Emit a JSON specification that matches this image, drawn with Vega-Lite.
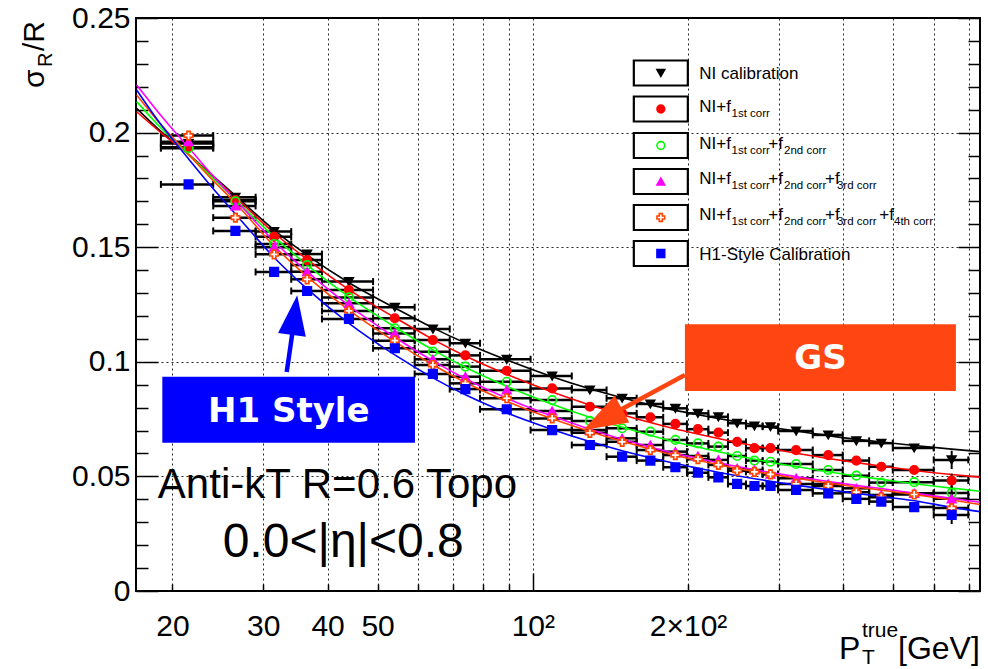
{
  "$schema": "https://vega.github.io/schema/vega-lite/v6.json",
  "width": 844,
  "height": 573,
  "autosize": {"type": "none"},
  "padding": {"left": 136, "top": 18, "right": 8, "bottom": 78},
  "background": "white",
  "config": {
    "view": {"stroke": "black", "strokeWidth": 2},
    "axis": {
      "labelFont": "Liberation Sans", "labelFontSize": 30, "labelColor": "black",
      "tickColor": "black", "tickWidth": 1.5, "domain": false, "title": null,
      "gridColor": "#000000", "gridDash": [2, 3], "gridWidth": 1, "gridOpacity": 0.85,
      "labelOverlap": false, "labelFlush": false
    },
    "text": {"font": "Liberation Sans", "color": "black"}
  },
  "datasets": {
    "pts": [
      {"lo": 19, "hi": 24, "x": 21.5, "NI": 0.1952, "f1": 0.1936, "f2": 0.1932, "f3": 0.1960, "f4": 0.1987, "H1": 0.1774},
      {"lo": 24, "hi": 29, "x": 26.5, "NI": 0.1718, "f1": 0.1706, "f2": 0.1700, "f3": 0.1680, "f4": 0.1629, "H1": 0.1571},
      {"lo": 29, "hi": 34, "x": 31.5, "NI": 0.1568, "f1": 0.1546, "f2": 0.1514, "f3": 0.1500, "f4": 0.1469, "H1": 0.1392},
      {"lo": 34, "hi": 39, "x": 36.5, "NI": 0.1470, "f1": 0.1444, "f2": 0.1422, "f3": 0.1393, "f4": 0.1360, "H1": 0.1309},
      {"lo": 39, "hi": 49, "x": 44, "NI": 0.1350, "f1": 0.1313, "f2": 0.1281, "f3": 0.1255, "f4": 0.1222, "H1": 0.1187},
      {"lo": 49, "hi": 59, "x": 54, "NI": 0.1238, "f1": 0.1190, "f2": 0.1146, "f3": 0.1124, "f4": 0.1092, "H1": 0.1059},
      {"lo": 59, "hi": 69, "x": 64, "NI": 0.1143, "f1": 0.1095, "f2": 0.1044, "f3": 0.1011, "f4": 0.0986, "H1": 0.0947},
      {"lo": 69, "hi": 79, "x": 74, "NI": 0.1081, "f1": 0.1028, "f2": 0.0979, "f3": 0.0935, "f4": 0.0906, "H1": 0.0881},
      {"lo": 79, "hi": 99, "x": 89, "NI": 0.1011, "f1": 0.0961, "f2": 0.0913, "f3": 0.0877, "f4": 0.0841, "H1": 0.0793},
      {"lo": 99, "hi": 119, "x": 109, "NI": 0.0938, "f1": 0.0884, "f2": 0.0833, "f3": 0.0785, "f4": 0.0753, "H1": 0.0702},
      {"lo": 119, "hi": 139, "x": 129, "NI": 0.0877, "f1": 0.0804, "f2": 0.0742, "f3": 0.0702, "f4": 0.0690, "H1": 0.0637},
      {"lo": 139, "hi": 159, "x": 149, "NI": 0.0841, "f1": 0.0775, "f2": 0.0710, "f3": 0.0666, "f4": 0.0651, "H1": 0.0586},
      {"lo": 159, "hi": 179, "x": 169, "NI": 0.0816, "f1": 0.0758, "f2": 0.0695, "f3": 0.0637, "f4": 0.0615, "H1": 0.0569},
      {"lo": 179, "hi": 199, "x": 189, "NI": 0.0797, "f1": 0.0729, "f2": 0.0659, "f3": 0.0608, "f4": 0.0593, "H1": 0.0540},
      {"lo": 199, "hi": 219, "x": 209, "NI": 0.0775, "f1": 0.0706, "f2": 0.0644, "f3": 0.0589, "f4": 0.0575, "H1": 0.0516},
      {"lo": 219, "hi": 239, "x": 229, "NI": 0.0760, "f1": 0.0691, "f2": 0.0630, "f3": 0.0572, "f4": 0.0550, "H1": 0.0496},
      {"lo": 239, "hi": 259, "x": 249, "NI": 0.0732, "f1": 0.0651, "f2": 0.0589, "f3": 0.0535, "f4": 0.0525, "H1": 0.0467},
      {"lo": 259, "hi": 279, "x": 269, "NI": 0.0720, "f1": 0.0623, "f2": 0.0569, "f3": 0.0528, "f4": 0.0520, "H1": 0.0458},
      {"lo": 279, "hi": 299, "x": 289, "NI": 0.0717, "f1": 0.0623, "f2": 0.0564, "f3": 0.0510, "f4": 0.0509, "H1": 0.0458},
      {"lo": 299, "hi": 349, "x": 324, "NI": 0.0698, "f1": 0.0615, "f2": 0.0554, "f3": 0.0492, "f4": 0.0467, "H1": 0.0441},
      {"lo": 349, "hi": 399, "x": 374, "NI": 0.0681, "f1": 0.0593, "f2": 0.0528, "f3": 0.0467, "f4": 0.0458, "H1": 0.0426},
      {"lo": 399, "hi": 449, "x": 424, "NI": 0.0655, "f1": 0.0569, "f2": 0.0503, "f3": 0.0448, "f4": 0.0431, "H1": 0.0402},
      {"lo": 449, "hi": 499, "x": 474, "NI": 0.0645, "f1": 0.0542, "f2": 0.0473, "f3": 0.0419, "f4": 0.0409, "H1": 0.0390},
      {"lo": 499, "hi": 599, "x": 549, "NI": 0.0624, "f1": 0.0528, "f2": 0.0475, "f3": 0.0426, "f4": 0.0421, "H1": 0.0366},
      {"lo": 599, "hi": 699, "x": 649, "NI": 0.0572, "f1": 0.0482, "f2": 0.0428, "f3": 0.0402, "f4": 0.0362, "H1": 0.0332}
    ],
    "verr": [
      {"x": 649, "y": 0.0572, "e": 0.0040},
      {"x": 649, "y": 0.0482, "e": 0.0030},
      {"x": 649, "y": 0.0428, "e": 0.0030},
      {"x": 649, "y": 0.0402, "e": 0.0030},
      {"x": 649, "y": 0.0362, "e": 0.0030},
      {"x": 649, "y": 0.0332, "e": 0.0040}
    ],
    "fit": [
      {"x": 17.05, "NI": 0.2106, "f1": 0.2091, "f2": 0.2135, "f3": 0.2208, "f4": 0.2164, "H1": 0.2186},
      {"x": 19, "NI": 0.2005, "f1": 0.2000, "f2": 0.2020, "f3": 0.2075, "f4": 0.2035, "H1": 0.2035},
      {"x": 21.5, "NI": 0.1905, "f1": 0.1905, "f2": 0.1905, "f3": 0.1935, "f4": 0.1905, "H1": 0.1885},
      {"x": 24, "NI": 0.1810, "f1": 0.1805, "f2": 0.1800, "f3": 0.1810, "f4": 0.1790, "H1": 0.1755},
      {"x": 26.5, "NI": 0.1725, "f1": 0.1718, "f2": 0.1708, "f3": 0.1707, "f4": 0.1693, "H1": 0.1645},
      {"x": 31.5, "NI": 0.1575, "f1": 0.1562, "f2": 0.1545, "f3": 0.1525, "f4": 0.1505, "H1": 0.1455},
      {"x": 36.5, "NI": 0.1465, "f1": 0.1447, "f2": 0.1422, "f3": 0.1393, "f4": 0.1372, "H1": 0.1318},
      {"x": 44, "NI": 0.1345, "f1": 0.1315, "f2": 0.1283, "f3": 0.1245, "f4": 0.1225, "H1": 0.1168},
      {"x": 54, "NI": 0.1235, "f1": 0.1193, "f2": 0.1152, "f3": 0.1107, "f4": 0.1088, "H1": 0.1030},
      {"x": 64, "NI": 0.1148, "f1": 0.1098, "f2": 0.1052, "f3": 0.1004, "f4": 0.0987, "H1": 0.0930},
      {"x": 74, "NI": 0.1082, "f1": 0.1025, "f2": 0.0976, "f3": 0.0926, "f4": 0.0910, "H1": 0.0856},
      {"x": 89, "NI": 0.1008, "f1": 0.0945, "f2": 0.0893, "f3": 0.0841, "f4": 0.0828, "H1": 0.0777},
      {"x": 109, "NI": 0.0935, "f1": 0.0868, "f2": 0.0815, "f3": 0.0763, "f4": 0.0751, "H1": 0.0705},
      {"x": 129, "NI": 0.0882, "f1": 0.0812, "f2": 0.0758, "f3": 0.0706, "f4": 0.0696, "H1": 0.0652},
      {"x": 149, "NI": 0.0843, "f1": 0.0769, "f2": 0.0714, "f3": 0.0662, "f4": 0.0653, "H1": 0.0612},
      {"x": 169, "NI": 0.0812, "f1": 0.0735, "f2": 0.0679, "f3": 0.0628, "f4": 0.0619, "H1": 0.0581},
      {"x": 189, "NI": 0.0788, "f1": 0.0707, "f2": 0.0650, "f3": 0.0600, "f4": 0.0591, "H1": 0.0556},
      {"x": 209, "NI": 0.0769, "f1": 0.0685, "f2": 0.0628, "f3": 0.0579, "f4": 0.0570, "H1": 0.0536},
      {"x": 249, "NI": 0.0738, "f1": 0.0648, "f2": 0.0590, "f3": 0.0543, "f4": 0.0535, "H1": 0.0503},
      {"x": 289, "NI": 0.0714, "f1": 0.0621, "f2": 0.0562, "f3": 0.0517, "f4": 0.0510, "H1": 0.0479},
      {"x": 324, "NI": 0.0698, "f1": 0.0601, "f2": 0.0543, "f3": 0.0499, "f4": 0.0492, "H1": 0.0462},
      {"x": 374, "NI": 0.0678, "f1": 0.0578, "f2": 0.0520, "f3": 0.0478, "f4": 0.0471, "H1": 0.0442},
      {"x": 424, "NI": 0.0662, "f1": 0.0560, "f2": 0.0502, "f3": 0.0461, "f4": 0.0454, "H1": 0.0426},
      {"x": 474, "NI": 0.0650, "f1": 0.0545, "f2": 0.0487, "f3": 0.0447, "f4": 0.0440, "H1": 0.0412},
      {"x": 549, "NI": 0.0635, "f1": 0.0526, "f2": 0.0468, "f3": 0.0427, "f4": 0.0421, "H1": 0.0394},
      {"x": 649, "NI": 0.0619, "f1": 0.0508, "f2": 0.0449, "f3": 0.0404, "f4": 0.0397, "H1": 0.0365},
      {"x": 736.5, "NI": 0.0608, "f1": 0.0497, "f2": 0.0435, "f3": 0.0387, "f4": 0.0377, "H1": 0.0346}
    ],
    "leg": [
      {"s": "NI", "x": 177.1, "y": 0.2260},
      {"s": "f1", "x": 177.1, "y": 0.2103},
      {"s": "f2", "x": 177.1, "y": 0.19437},
      {"s": "f3", "x": 177.1, "y": 0.17867},
      {"s": "f4", "x": 177.1, "y": 0.16296},
      {"s": "H1", "x": 177.1, "y": 0.14725}
    ],
    "boxes": [
      {"id": "H1", "x": 19.12, "x2": 59.08, "y": 0.0647, "y2": 0.0935},
      {"id": "GS", "x": 197.2, "x2": 661.4, "y": 0.08726, "y2": 0.11636}
    ],
    "arr": [
      {"id": "H1", "x": 33.32, "y": 0.09555, "x2": 34.42, "y2": 0.11737, "hx": 34.51, "hy": 0.12042},
      {"id": "GS", "x": 197.2, "y": 0.09424, "x2": 139.3, "y2": 0.07592, "hx": 136.6, "hy": 0.07483}
    ],
    "txt": [
      {"k": "lg", "x": 210.3, "y": 0.22339, "t": "NI calibration"},
      {"k": "lg", "x": 210.3, "y": 0.20899, "t": "NI+f"},
      {"k": "lg", "x": 210.3, "y": 0.19306, "t": "NI+f"},
      {"k": "lg", "x": 286.1, "y": 0.19306, "t": "+f"},
      {"k": "lg", "x": 210.3, "y": 0.17736, "t": "NI+f"},
      {"k": "lg", "x": 286.1, "y": 0.17736, "t": "+f"},
      {"k": "lg", "x": 368.6, "y": 0.17736, "t": "+f"},
      {"k": "lg", "x": 210.3, "y": 0.16165, "t": "NI+f"},
      {"k": "lg", "x": 286.1, "y": 0.16165, "t": "+f"},
      {"k": "lg", "x": 368.6, "y": 0.16165, "t": "+f"},
      {"k": "lg", "x": 469.7, "y": 0.16165, "t": "+f"},
      {"k": "lg", "x": 210.3, "y": 0.14463, "t": "H1-Style Calibration"},
      {"k": "ls", "x": 242.9, "y": 0.20681, "t": "1st corr"},
      {"k": "ls", "x": 242.9, "y": 0.19088, "t": "1st corr"},
      {"k": "ls", "x": 307.0, "y": 0.19088, "t": "2nd corr"},
      {"k": "ls", "x": 242.9, "y": 0.17518, "t": "1st corr"},
      {"k": "ls", "x": 307.0, "y": 0.17518, "t": "2nd corr"},
      {"k": "ls", "x": 388.8, "y": 0.17518, "t": "3rd corr"},
      {"k": "ls", "x": 242.9, "y": 0.15947, "t": "1st corr"},
      {"k": "ls", "x": 307.0, "y": 0.15947, "t": "2nd corr"},
      {"k": "ls", "x": 388.8, "y": 0.15947, "t": "3rd corr"},
      {"k": "ls", "x": 501.7, "y": 0.15947, "t": "4th corr"},
      {"k": "bx", "x": 33.63, "y": 0.07387, "t": "H1 Style"},
      {"k": "bx", "x": 361.2, "y": 0.09673, "t": "GS"},
      {"k": "n1", "x": 41.79, "y": 0.04045, "t": "Anti-kT R=0.6 Topo"},
      {"k": "n2", "x": 42.89, "y": 0.014965, "t": "0.0<|η|<0.8"},
      {"k": "xt", "x": 392.4, "y": -0.02967, "t": "P"},
      {"k": "xt", "x": 510.7, "y": -0.02967, "t": "[GeV]"},
      {"k": "xs", "x": 434.7, "y": -0.02007, "t": "true"},
      {"k": "xs", "x": 434.7, "y": -0.03185, "t": "T"},
      {"k": "yt", "x": 11.28, "y": 0.21946, "t": "σ"},
      {"k": "ys", "x": 11.68, "y": 0.22862, "t": "R"},
      {"k": "yt", "x": 11.28, "y": 0.23560, "t": "/R"}
    ]
  },
  "resolve": {"axis": {"x": "independent", "y": "independent"}},
  "encoding": {
    "x": {"field": "x", "type": "quantitative", "scale": {"type": "log", "domain": [17, 736.5], "nice": false}, "axis": null},
    "y": {"field": "y", "type": "quantitative", "scale": {"domain": [0, 0.25], "nice": false, "zero": false}, "axis": null}
  },
  "layer": [
    {
      "data": {"name": "pts"},
      "transform": [{"fold": ["NI", "f1", "f2", "f3", "f4", "H1"], "as": ["s", "y"]}],
      "mark": {"type": "rule", "color": "black", "strokeWidth": 2.5},
      "encoding": {
        "x": {"field": "lo", "type": "quantitative", "scale": {"type": "log", "domain": [17, 736.5], "nice": false},
          "axis": {"orient": "bottom", "values": [20, 30, 40, 50, 60, 70, 80, 90, 200, 300, 400, 500, 600, 700],
            "tickSize": -7, "labelPadding": 27, "grid": true,
            "labelExpr": "datum.value == 200 ? '2×10²' : (datum.value <= 50 ? '' + datum.value : '')"}},
        "x2": {"field": "hi"},
        "y": {"field": "y", "type": "quantitative", "scale": {"domain": [0, 0.25], "nice": false, "zero": false},
          "axis": {"orient": "left", "values": [0, 0.05, 0.1, 0.15, 0.2, 0.25], "tickSize": -22, "labelPadding": 28,
            "grid": true, "labelExpr": "'' + datum.value"}}
      }
    },
    {
      "data": {"name": "pts"},
      "transform": [{"fold": ["NI", "f1", "f2", "f3", "f4", "H1"], "as": ["s", "y"]}],
      "mark": {"type": "point", "shape": "M0,-1L0,1", "size": 49, "filled": false, "stroke": "black", "strokeWidth": 2, "opacity": 1},
      "encoding": {
        "x": {"field": "lo", "type": "quantitative", "scale": {"type": "log", "domain": [17, 736.5], "nice": false},
          "axis": {"orient": "bottom", "values": [100], "tickSize": -18, "labelPadding": 38, "grid": true, "labelExpr": "'10²'"}},
        "y": {"field": "y", "type": "quantitative", "scale": {"domain": [0, 0.25], "nice": false, "zero": false},
          "axis": {"orient": "left", "values": [0.01, 0.02, 0.03, 0.04, 0.06, 0.07, 0.08, 0.09, 0.11, 0.12, 0.13, 0.14, 0.16, 0.17, 0.18, 0.19, 0.21, 0.22, 0.23, 0.24],
            "tickSize": -12, "labels": false, "grid": false}}
      }
    },
    {
      "data": {"name": "pts"},
      "transform": [{"fold": ["NI", "f1", "f2", "f3", "f4", "H1"], "as": ["s", "y"]}],
      "mark": {"type": "point", "shape": "M0,-1L0,1", "size": 49, "filled": false, "stroke": "black", "strokeWidth": 2, "opacity": 1},
      "encoding": {
        "x": {"field": "hi", "type": "quantitative", "scale": {"type": "log", "domain": [17, 736.5], "nice": false}, "axis": null},
        "y": {"field": "y", "type": "quantitative", "scale": {"domain": [0, 0.25], "nice": false, "zero": false},
          "axis": {"orient": "right", "values": [0, 0.05, 0.1, 0.15, 0.2, 0.25], "tickSize": -22, "labels": false, "grid": false}}
      }
    },
    {
      "data": {"name": "fit"},
      "transform": [{"fold": ["NI", "f1", "f2", "f3", "f4", "H1"], "as": ["s", "y"]}],
      "mark": {"type": "line", "strokeWidth": 1.6, "interpolate": "monotone", "clip": true},
      "encoding": {
        "y": {"field": "y", "type": "quantitative", "scale": {"domain": [0, 0.25], "nice": false, "zero": false},
          "axis": {"orient": "right", "values": [0.01, 0.02, 0.03, 0.04, 0.06, 0.07, 0.08, 0.09, 0.11, 0.12, 0.13, 0.14, 0.16, 0.17, 0.18, 0.19, 0.21, 0.22, 0.23, 0.24],
            "tickSize": -12, "labels": false, "grid": false}},
        "stroke": {"field": "s", "type": "nominal", "legend": null,
          "scale": {"domain": ["NI", "f1", "f2", "f3", "f4", "H1"], "range": ["#000000", "#ff0000", "#00ff00", "#ff00ff", "#ff4500", "#0000ff"]}}
      }
    },
    {
      "data": {"name": "verr"},
      "mark": {"type": "errorbar", "ticks": false, "thickness": 2, "color": "black"},
      "encoding": {
        "yError": {"field": "e"}
      }
    },
    {
      "data": {"name": "pts"},
      "transform": [{"fold": ["NI", "f1", "f2", "f3", "f4", "H1"], "as": ["s", "y"]}],
      "mark": {"type": "point", "filled": true, "size": 72, "strokeWidth": 1.7, "opacity": 1},
      "encoding": {
        "shape": {"field": "s", "type": "nominal", "legend": null,
          "scale": {"domain": ["NI", "f1", "f2", "f3", "f4", "H1"], "range": ["triangle-down", "circle", "circle", "triangle-up", "cross", "square"]}},
        "fill": {"field": "s", "type": "nominal", "legend": null,
          "scale": {"domain": ["NI", "f1", "f2", "f3", "f4", "H1"], "range": ["#000000", "#ff0000", "transparent", "#ff00ff", "#ffffff", "#0000ff"]}},
        "stroke": {"field": "s", "type": "nominal", "legend": null,
          "scale": {"domain": ["NI", "f1", "f2", "f3", "f4", "H1"], "range": ["#000000", "#ff0000", "#00ff00", "#ff00ff", "#ff4500", "#0000ff"]}}
      }
    },
    {
      "data": {"name": "leg"},
      "mark": {"type": "point", "shape": "M-1,-0.463L1,-0.463L1,0.463L-1,0.463Z", "size": 2916, "filled": true, "fill": "white", "stroke": "black", "strokeWidth": 2.2, "opacity": 1}
    },
    {
      "data": {"name": "leg"},
      "mark": {"type": "point", "filled": true, "size": 60, "strokeWidth": 1.6, "opacity": 1},
      "encoding": {
        "shape": {"field": "s", "type": "nominal", "legend": null},
        "fill": {"field": "s", "type": "nominal", "legend": null},
        "stroke": {"field": "s", "type": "nominal", "legend": null}
      }
    },
    {
      "data": {"name": "boxes"},
      "mark": {"type": "rect"},
      "encoding": {
        "x2": {"field": "x2"},
        "y2": {"field": "y2"},
        "color": {"field": "id", "type": "nominal", "legend": null,
          "scale": {"domain": ["H1", "GS"], "range": ["#0000ff", "#ff4612"]}}
      }
    },
    {
      "data": {"name": "arr"},
      "mark": {"type": "rule", "strokeWidth": 4.5},
      "encoding": {
        "x2": {"field": "x2"},
        "y2": {"field": "y2"},
        "color": {"field": "id", "type": "nominal", "legend": null}
      }
    },
    {
      "data": {"name": "arr"},
      "transform": [{"filter": "datum.id == 'H1'"}],
      "mark": {"type": "point", "shape": "M0,-1L0.7,1L-0.7,1Z", "size": 1600, "angle": 7.6, "filled": true, "opacity": 1},
      "encoding": {
        "x": {"field": "hx", "type": "quantitative", "scale": {"type": "log", "domain": [17, 736.5], "nice": false}, "axis": null},
        "y": {"field": "hy", "type": "quantitative", "scale": {"domain": [0, 0.25], "nice": false, "zero": false}, "axis": null},
        "color": {"field": "id", "type": "nominal", "legend": null}
      }
    },
    {
      "data": {"name": "arr"},
      "transform": [{"filter": "datum.id == 'GS'"}],
      "mark": {"type": "point", "shape": "M0,-1L0.7,1L-0.7,1Z", "size": 1936, "angle": 241.6, "filled": true, "opacity": 1},
      "encoding": {
        "x": {"field": "hx", "type": "quantitative", "scale": {"type": "log", "domain": [17, 736.5], "nice": false}, "axis": null},
        "y": {"field": "hy", "type": "quantitative", "scale": {"domain": [0, 0.25], "nice": false, "zero": false}, "axis": null},
        "color": {"field": "id", "type": "nominal", "legend": null}
      }
    },
    {
      "data": {"name": "txt"},
      "transform": [{"filter": "datum.k == 'lg'"}],
      "mark": {"type": "text", "fontSize": 17, "align": "left", "baseline": "alphabetic"},
      "encoding": {"text": {"field": "t"}}
    },
    {
      "data": {"name": "txt"},
      "transform": [{"filter": "datum.k == 'ls'"}],
      "mark": {"type": "text", "fontSize": 11.5, "align": "left", "baseline": "alphabetic"},
      "encoding": {"text": {"field": "t"}}
    },
    {
      "data": {"name": "txt"},
      "transform": [{"filter": "datum.k == 'bx'"}],
      "mark": {"type": "text", "font": "DejaVu Sans", "fontWeight": "bold", "fontSize": 34, "color": "white", "align": "center", "baseline": "alphabetic"},
      "encoding": {"text": {"field": "t"}}
    },
    {
      "data": {"name": "txt"},
      "transform": [{"filter": "datum.k == 'n1'"}],
      "mark": {"type": "text", "fontSize": 42, "align": "center", "baseline": "alphabetic"},
      "encoding": {"text": {"field": "t"}}
    },
    {
      "data": {"name": "txt"},
      "transform": [{"filter": "datum.k == 'n2'"}],
      "mark": {"type": "text", "fontSize": 48, "align": "center", "baseline": "alphabetic"},
      "encoding": {"text": {"field": "t"}}
    },
    {
      "data": {"name": "txt"},
      "transform": [{"filter": "datum.k == 'xt'"}],
      "mark": {"type": "text", "fontSize": 32, "align": "left", "baseline": "alphabetic"},
      "encoding": {"text": {"field": "t"}}
    },
    {
      "data": {"name": "txt"},
      "transform": [{"filter": "datum.k == 'xs'"}],
      "mark": {"type": "text", "fontSize": 21, "align": "left", "baseline": "alphabetic"},
      "encoding": {"text": {"field": "t"}}
    },
    {
      "data": {"name": "txt"},
      "transform": [{"filter": "datum.k == 'yt'"}],
      "mark": {"type": "text", "fontSize": 30, "angle": 270, "align": "left", "baseline": "alphabetic"},
      "encoding": {"text": {"field": "t"}}
    },
    {
      "data": {"name": "txt"},
      "transform": [{"filter": "datum.k == 'ys'"}],
      "mark": {"type": "text", "fontSize": 20, "angle": 270, "align": "left", "baseline": "alphabetic"},
      "encoding": {"text": {"field": "t"}}
    }
  ]
}
